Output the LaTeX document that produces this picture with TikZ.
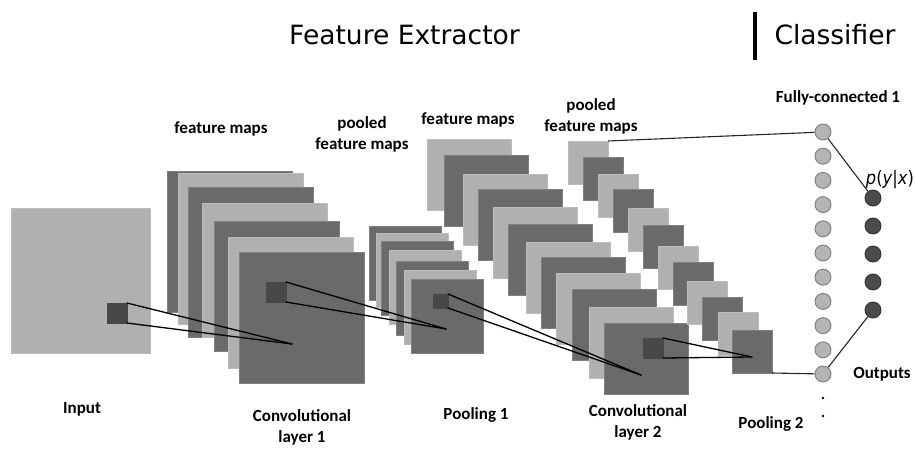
\documentclass[tikz,border=0pt]{standalone}
\usepackage{fontspec}
\setmainfont{Carlito}
\newfontfamily\titlefont{DejaVu Sans}
\definecolor{lgray}{RGB}{176,176,176}
\definecolor{dgray}{RGB}{106,106,106}
\definecolor{kgray}{RGB}{72,72,72}
\definecolor{fcgray}{RGB}{180,180,180}
\definecolor{fcedge}{RGB}{125,125,125}
\definecolor{ogray}{RGB}{75,75,75}
\newcommand{\fmap}[6]{\node[#1, minimum width=#4pt, minimum height=#5pt] (#6) at (#2,#3) {};}
\tikzset{
  box/.style={rectangle, inner sep=0pt, outer sep=0pt, anchor=north west, line width=0.4pt},
  fmL/.style={box, fill=lgray, draw=lgray!85!white},
  fmD/.style={box, fill=dgray, draw=dgray!85!white},
  kern/.style={box, fill=kgray, draw=kgray},
  conn/.style={line width=1.3pt, black, line cap=round},
  fcl/.style={line width=1.1pt, black!85},
  fcn/.style={circle, fill=fcgray, draw=fcedge, line width=0.9pt, minimum size=16pt, inner sep=0pt},
  outn/.style={circle, fill=ogray, draw=black!80, line width=0.9pt, minimum size=16pt, inner sep=0pt},
  dotn/.style={circle, fill=black, minimum size=2.6pt, inner sep=0pt},
  lbl/.style={font=\bfseries\fontsize{17}{21}\selectfont, align=center, inner sep=0pt},
  ttl/.style={font=\titlefont\fontsize{26.5}{30}\selectfont, inner sep=0pt}
}
\begin{document}
\begin{tikzpicture}[x=1pt,y=-1pt]
\useasboundingbox (0,0) rectangle (915,452);
% input
\fmap{fmL}{11}{208}{139}{145}{input}
\fmap{kern}{107}{303}{20}{20}{k0}
% conv layer 1
\fmap{fmD}{167}{171}{125}{141}{c1a}
\fmap{fmL}{178}{173}{125}{151}{c1b}
\fmap{fmD}{188}{187}{125}{150}{c1c}
\fmap{fmL}{202}{203}{125}{134}{c1d}
\fmap{fmD}{214}{221}{125}{130}{c1e}
\fmap{fmL}{228}{237}{125}{131}{c1f}
\fmap{fmD}{239}{252}{125}{131}{c1g}
\fmap{kern}{266}{282}{20}{20}{k1}
% conv layer 2
\fmap{fmL}{427}{139}{84}{71}{c2a}
\fmap{fmD}{444}{155}{84}{71}{c2b}
\fmap{fmL}{463}{174}{84}{71}{c2c}
\fmap{fmD}{478}{189}{84}{71}{c2d}
\fmap{fmL}{493}{207}{84}{71}{c2e}
\fmap{fmD}{508}{224}{84}{71}{c2f}
\fmap{fmL}{526}{242}{84}{71}{c2g}
\fmap{fmD}{541}{257}{84}{71}{c2h}
\fmap{fmL}{556}{273}{84}{71}{c2i}
\fmap{fmD}{572}{289}{84}{71}{c2j}
\fmap{fmL}{589}{307}{84}{71}{c2k}
\fmap{fmD}{604}{323}{84}{71}{c2l}
\fmap{kern}{643}{338}{20}{20}{k3}
% pooling 1
\fmap{fmD}{369}{226}{72}{74}{p1a}
\fmap{fmL}{376}{233}{72}{74}{p1b}
\fmap{fmD}{381}{241}{72}{74}{p1c}
\fmap{fmL}{389}{250}{72}{74}{p1d}
\fmap{fmD}{396}{261}{72}{74}{p1e}
\fmap{fmL}{404}{270}{72}{74}{p1f}
\fmap{fmD}{411}{279}{72}{74}{p1g}
\fmap{kern}{433}{294}{15}{14}{k2}
% pooling 2
\fmap{fmL}{568}{141}{40}{43}{p2a}
\fmap{fmD}{583}{157}{40}{43}{p2b}
\fmap{fmL}{598}{174}{40}{43}{p2c}
\fmap{fmD}{613}{189}{40}{43}{p2d}
\fmap{fmL}{628}{208}{40}{43}{p2e}
\fmap{fmD}{643}{225}{40}{43}{p2f}
\fmap{fmL}{658}{246}{40}{43}{p2g}
\fmap{fmD}{673}{262}{40}{43}{p2h}
\fmap{fmL}{687}{281}{40}{43}{p2i}
\fmap{fmD}{702}{297}{40}{43}{p2j}
\fmap{fmL}{718}{312}{40}{43}{p2k}
\fmap{fmD}{732}{330}{40}{43}{p2l}
% receptive field connectors
\coordinate (a1) at (292,344);
\coordinate (a2) at (446,329);
\coordinate (a3) at (641,375);
\coordinate (a4) at (752,357);
\draw[conn] (k0.north east) -- (a1);
\draw[conn] (k0.south east) -- (a1);
\draw[conn] (k1.north east) -- (a2);
\draw[conn] (k1.south east) -- (a2);
\draw[conn] (k2.north east) -- (a3);
\draw[conn] (k2.south east) -- (a3);
\draw[conn] (k3.north east) -- (a4);
\draw[conn] (k3.south east) -- (a4);
% fully connected
\foreach \i in {0,...,10} {\node[fcn] (fc\i) at (823,{132+24.2*\i}) {};}
\foreach \i in {0,...,4} {\node[outn] (o\i) at (873,{198+28*\i}) {};}
\node[dotn] (d1) at (823,398) {};
\node[dotn] (d2) at (823,416) {};
\draw[fcl] (p2a.north east) -- (fc0);
\draw[fcl] (p2l.south east) -- (fc10);
\draw[fcl] (fc0) -- (o0);
\draw[fcl] (fc10) -- (o4);
% titles
\node[ttl] (tfe) at (404.5,35) {Feature Extractor};
\node[ttl] (tcl) at (835,35) {Classifier};
\coordinate (bt) at (755,12);
\coordinate (bb) at (755,60);
\draw[line width=4pt] (bt) -- (bb);
% labels
\node[lbl] (l1) at (221,129) {feature maps};
\node[lbl] (l2) at (362,134.5) {pooled\\feature maps};
\node[lbl] (l3) at (468,120) {feature maps};
\node[lbl] (l4) at (591,116.5) {pooled\\feature maps};
\node[lbl] (l5) at (838,98) {Fully-connected 1};
\node[lbl] (l6) at (82,409) {Input};
\node[lbl] (l7) at (302,427) {Convolutional\\layer 1};
\node[lbl] (l8) at (476,415) {Pooling 1};
\node[lbl] (l9) at (638,422) {Convolutional\\layer 2};
\node[lbl] (l10) at (771,424) {Pooling 2};
\node[lbl] (l11) at (882,374) {Outputs};
\node[font=\titlefont\fontsize{18.5}{20}\selectfont, inner sep=0pt] (l12) at (890,180) {\scalebox{0.88}[1]{\textit{p}(\textit{y}|\textit{x})}};
\end{tikzpicture}
\end{document}
